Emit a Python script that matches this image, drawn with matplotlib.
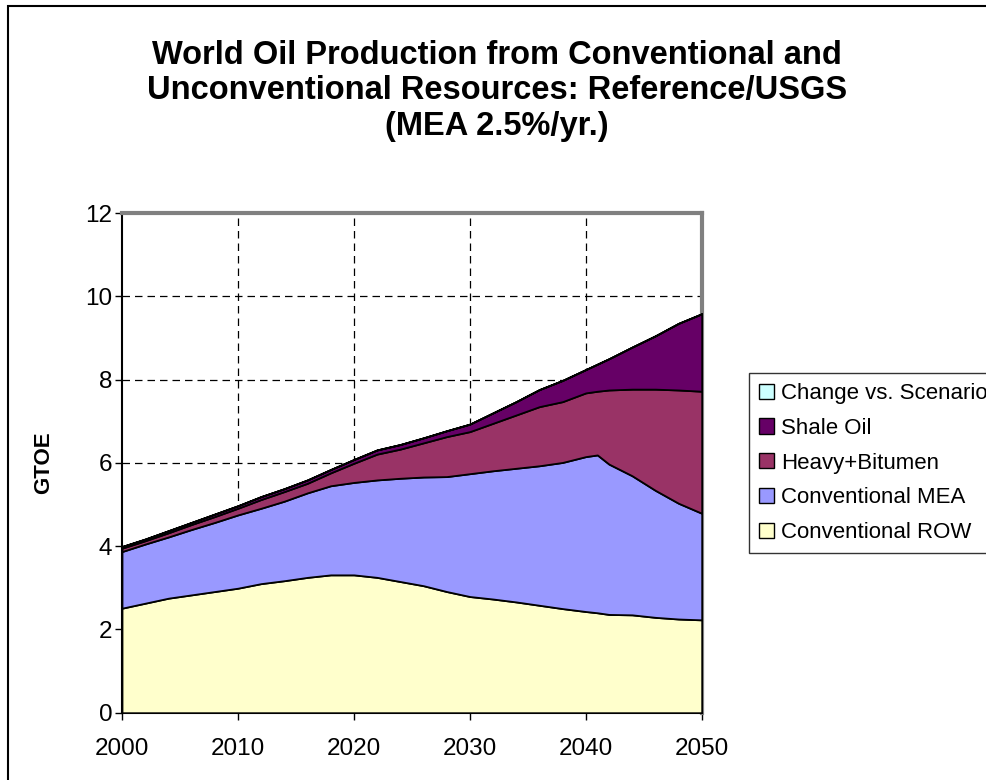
import matplotlib.pyplot as plt
import matplotlib.patches as mpatches

plt.rcParams['font.family'] = ['Liberation Sans', 'DejaVu Sans']

years = [2000, 2002, 2004, 2006, 2008, 2010, 2012, 2014, 2016, 2018, 2020,
         2022, 2024, 2026, 2028, 2030, 2032, 2034, 2036, 2038, 2040, 2041,
         2042, 2044, 2046, 2048, 2050]

conv_row = [2.51, 2.63, 2.75, 2.83, 2.91, 2.99, 3.10, 3.17, 3.25, 3.31, 3.31,
            3.25, 3.15, 3.05, 2.91, 2.79, 2.73, 2.66, 2.58, 2.50, 2.43, 2.40,
            2.36, 2.35, 2.29, 2.25, 2.23]
conv_mea = [1.36, 1.42, 1.47, 1.57, 1.66, 1.76, 1.81, 1.91, 2.03, 2.14, 2.22,
            2.34, 2.48, 2.61, 2.76, 2.95, 3.08, 3.21, 3.35, 3.51, 3.72, 3.79,
            3.61, 3.34, 3.05, 2.78, 2.56]
heavy = [0.08, 0.08, 0.10, 0.12, 0.14, 0.16, 0.21, 0.23, 0.23, 0.31, 0.46,
         0.62, 0.70, 0.82, 0.96, 1.01, 1.14, 1.28, 1.42, 1.46, 1.53, 1.53,
         1.78, 2.08, 2.43, 2.72, 2.93]
shale = [0.04, 0.04, 0.05, 0.05, 0.06, 0.06, 0.07, 0.07, 0.08, 0.08, 0.09,
         0.10, 0.11, 0.12, 0.14, 0.18, 0.25, 0.32, 0.41, 0.51, 0.56, 0.65,
         0.75, 1.01, 1.28, 1.60, 1.86]
change = [0.0] * len(years)

labels = ['Conventional ROW', 'Conventional MEA', 'Heavy+Bitumen',
          'Shale Oil', 'Change vs. Scenario']
colors = ['#FFFFCC', '#9999FF', '#993366', '#660066', '#CCFFFF']

title_lines = ['World Oil Production from Conventional and',
               'Unconventional Resources: Reference/USGS',
               '(MEA 2.5%/yr.)']

W, H = 987, 780
fig = plt.figure(figsize=(W / 100, H / 100), dpi=100)
ax = fig.add_axes([122 / W, 1 - 712.7 / H, (701.7 - 122) / W, (712.7 - 213) / H])

ax.stackplot(years, conv_row, conv_mea, heavy, shale, change,
             colors=colors, edgecolor='black', linewidth=1.3,
             labels=labels, zorder=3)

ax.set_xlim(2000, 2050)
ax.set_ylim(0, 12)
ax.set_xticks(range(2000, 2051, 10))
ax.set_yticks(range(0, 13, 2))
ax.tick_params(labelsize=17.5, length=5, width=1, direction='out')
ax.tick_params(axis='x', pad=13)
ax.tick_params(axis='y', pad=2)

for x in range(2010, 2050, 10):
    ax.axvline(x, color='black', lw=0.9, ls=(0, (6, 4)), zorder=1)
for y in range(2, 12, 2):
    ax.axhline(y, color='black', lw=0.9, ls=(0, (6, 4)), zorder=1)

for side in ['top', 'right']:
    ax.spines[side].set_color('#808080')
    ax.spines[side].set_linewidth(3)
ax.spines['left'].set_color('black')
ax.spines['left'].set_linewidth(1.5)
ax.spines['bottom'].set_color('black')
ax.spines['bottom'].set_linewidth(1.5)

fig.text(44 / W, 1 - 463 / H, 'GTOE', rotation=90, ha='center', va='center',
         fontsize=16, fontweight='bold')

for i, line in enumerate(title_lines):
    fig.text(497 / W, 1 - (56 + 35 * i) / H, line, ha='center', va='center',
             fontsize=23.5, fontweight='bold')

handles = [mpatches.Patch(facecolor=c, edgecolor='black', lw=1) for c in colors]
leg = fig.legend(handles[::-1], labels[::-1], loc='upper left',
                 bbox_to_anchor=(749 / W, 1 - 373 / H), fontsize=16,
                 frameon=True, fancybox=False, edgecolor='black',
                 handlelength=0.68, handleheight=0.68, handletextpad=0.32,
                 labelspacing=0.62, borderpad=0.45, borderaxespad=0)
leg.get_frame().set_linewidth(1)

fig.patches.append(mpatches.Rectangle((8 / W, -0.1), 1.2, 1.1 - 6 / H,
                                      transform=fig.transFigure, fill=False,
                                      edgecolor='black', lw=1.5))

fig.savefig('out.png', dpi=100)
